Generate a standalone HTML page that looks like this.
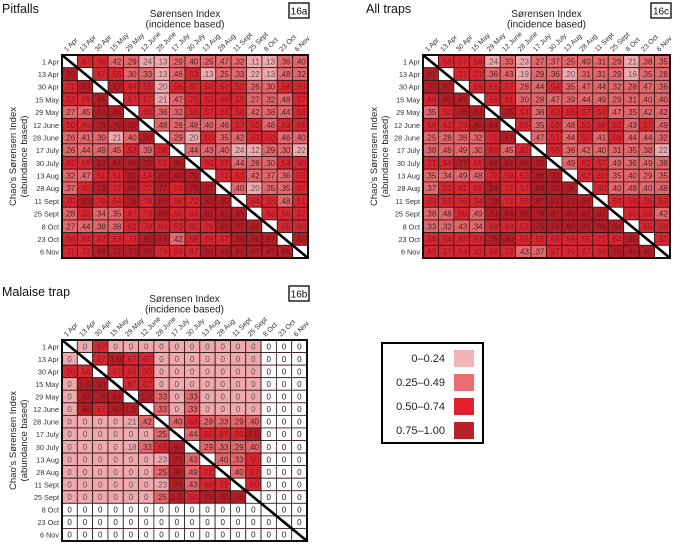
<!DOCTYPE html>
<html><head><meta charset="utf-8"><style>
html,body{margin:0;padding:0;background:#fff;}
svg{display:block;font-family:"Liberation Sans",sans-serif;}
</style></head><body>
<svg id="fig" width="675" height="545" viewBox="0 0 675 545" xmlns="http://www.w3.org/2000/svg">
<g>
<rect x="382" y="343" width="101" height="100" fill="#fff" stroke="#000" stroke-width="2"/>
<text x="445" y="362" text-anchor="end" font-size="11" fill="#222">0–0.24</text>
<rect x="454" y="350" width="20" height="17" fill="#f4b3b6"/>
<text x="445" y="386" text-anchor="end" font-size="11" fill="#222">0.25–0.49</text>
<rect x="454" y="374" width="20" height="17" fill="#ed6e72"/>
<text x="445" y="410" text-anchor="end" font-size="11" fill="#222">0.50–0.74</text>
<rect x="454" y="398" width="20" height="17" fill="#e4202e"/>
<text x="445" y="434" text-anchor="end" font-size="11" fill="#222">0.75–1.00</text>
<rect x="454" y="422" width="20" height="17" fill="#b8212a"/>
</g>
</svg>
<script>
const dates = ['1 Apr','13 Apr','30 Apr','15 May','29 May','12 June','28 June','17 July','30 July','13 Aug','28 Aug','11 Sept','25 Sept','8 Oct','23 Oct','6 Nov'];
const binEdges = [0.25, 0.5, 0.75];
const pitfallValues = [
[null,.67,.50,.42,.29,.24,.13,.29,.40,.25,.47,.32,.11,.13,.36,.40],
[.80,null,.67,.56,.30,.33,.13,.46,.53,.13,.25,.33,.22,.13,.48,.32],
[.71,.83,null,.87,.64,.55,.20,.56,.67,.50,.57,.52,.26,.30,.54,.50],
[.53,.69,.85,null,.67,.57,.21,.47,.70,.53,.60,.55,.27,.32,.48,.57],
[.27,.45,.83,.88,null,.60,.38,.32,.56,.57,.64,.58,.42,.38,.44,.56],
[.50,.60,.78,.76,.90,null,.48,.26,.48,.40,.46,.57,.50,.48,.63,.55],
[.26,.41,.30,.21,.40,.90,null,.29,.20,.50,.35,.42,.53,.50,.46,.40],
[.26,.44,.49,.45,.53,.39,.56,null,.44,.43,.40,.24,.12,.29,.30,.22],
[.61,.69,.83,.84,.86,.76,.55,.80,null,.50,.57,.44,.26,.30,.54,.60],
[.32,.47,.51,.51,.80,.54,.80,.90,.79,null,.71,.53,.42,.37,.36,.50],
[.37,.60,.78,.72,.86,.72,.77,.53,.78,.87,null,.40,.20,.35,.35,.57],
[.70,.83,.70,.64,.76,.74,.84,.56,.72,.83,.80,null,.64,.53,.48,.51],
[.28,.52,.34,.35,.67,.73,.80,.50,.64,.81,.81,.95,null,.63,.56,.52],
[.27,.44,.38,.38,.62,.70,.64,.53,.62,.70,.80,.77,.86,null,.55,.60],
[.56,.64,.67,.63,.73,.80,.78,.42,.58,.59,.67,.86,.86,.87,null,.85],
[.71,.73,.89,.77,.77,.80,.74,.53,.67,.80,.86,.80,.87,.87,.89,null]];
const allTrapValues = [
[null,.58,.57,.56,.24,.33,.23,.27,.37,.25,.40,.31,.29,.21,.38,.35],
[.81,null,.71,.71,.36,.43,.19,.29,.36,.20,.31,.31,.29,.16,.35,.28],
[.77,.87,null,.69,.51,.57,.28,.44,.54,.35,.47,.44,.32,.28,.47,.36],
[.60,.80,.87,null,.55,.61,.30,.28,.47,.39,.44,.49,.29,.31,.40,.40],
[.35,.50,.78,.83,null,.75,.54,.38,.62,.56,.57,.54,.47,.35,.42,.42],
[.59,.62,.73,.80,.84,null,.55,.35,.58,.48,.53,.59,.52,.43,.57,.49],
[.25,.28,.38,.32,.71,.87,null,.47,.51,.44,.50,.41,.56,.44,.44,.32],
[.38,.46,.49,.30,.60,.45,.61,null,.56,.36,.42,.40,.31,.35,.38,.22],
[.71,.54,.77,.65,.86,.82,.88,.90,null,.49,.62,.57,.49,.36,.49,.38],
[.35,.34,.49,.48,.70,.59,.52,.88,.90,null,.62,.50,.35,.40,.29,.35],
[.37,.52,.61,.55,.84,.72,.57,.88,.92,.96,null,.50,.40,.48,.40,.48],
[.63,.53,.56,.54,.78,.72,.56,.87,.91,.93,.96,null,.50,.59,.56,.52],
[.38,.48,.60,.49,.83,.84,.85,.76,.87,.80,.81,.92,null,.55,.53,.42],
[.33,.32,.43,.34,.69,.63,.52,.75,.76,.80,.81,.84,.84,null,.55,.50],
[.58,.54,.63,.53,.75,.80,.55,.56,.66,.56,.55,.71,.64,.80,null,.67],
[.65,.57,.64,.63,.58,.73,.43,.37,.57,.70,.67,.68,.76,.80,.90,null]];
const malaiseValues = [
[null,0,.67,0,0,0,0,0,0,0,0,0,0,0,0,0],
[0,null,.67,1.0,.67,.67,0,0,0,0,0,0,0,0,0,0],
[.50,.50,null,.67,.50,.50,0,0,0,0,0,0,0,0,0,0],
[0,1.0,.90,null,.67,.67,0,0,0,0,0,0,0,0,0,0],
[0,.93,.78,.98,null,1.0,.33,0,.33,0,0,0,0,0,0,0],
[0,.80,.67,.80,1.0,null,.33,0,.33,0,0,0,0,0,0,0],
[0,0,0,0,.21,.42,null,.40,.50,.29,.33,.29,.40,0,0,0],
[0,0,0,0,0,0,.25,null,.44,.50,.67,.50,1.0,0,0,0],
[0,0,0,0,.18,.33,.69,.90,null,.29,.33,.29,.40,0,0,0],
[0,0,0,0,0,0,.23,.75,.43,null,.40,.33,.50,0,0,0],
[0,0,0,0,0,0,.25,.90,.49,.72,null,.40,.57,0,0,0],
[0,0,0,0,0,0,.23,.75,.43,.60,.72,null,.50,0,0,0],
[0,0,0,0,0,0,.25,1.0,.50,.75,.90,.75,null,0,0,0],
[0,0,0,0,0,0,0,0,0,0,0,0,0,null,0,0],
[0,0,0,0,0,0,0,0,0,0,0,0,0,0,null,0],
[0,0,0,0,0,0,0,0,0,0,0,0,0,0,0,null]];
const malaiseUnsampled = ['8 Oct','23 Oct','6 Nov'];

const NS = 'http://www.w3.org/2000/svg';
const svg = document.getElementById('fig');
const cellFills = ['#efa9ad','#e2686d','#d62632','#b11e27'];
const textFills = ['#555','#4a2424','#8a1a22','#7a1218'];
function bin(v){ let b=0; for(const e of binEdges){ if(v>=e) b++; } return b; }
function fmt(v){ if(v===0) return '0'; if(v>=1) return '1.0'; return '.'+String(Math.round(v*100)).padStart(2,'0'); }
function mk(tag, attrs, parent){ const e=document.createElementNS(NS,tag); for(const k in attrs) e.setAttribute(k,attrs[k]); parent.appendChild(e); return e; }

function drawPanel(cfg){
  const g = mk('g',{},svg);
  
  
  const n = dates.length;
  const cw = (cfg.x1-cfg.x0)/n, ch = (cfg.y1-cfg.y0)/n;
  const xs = i => cfg.x0 + i*cw, ys = i => cfg.y0 + i*ch;
  const t = mk('text',{x:cfg.tx,y:cfg.ty,'font-size':12.5,fill:'#111'},g); t.textContent=cfg.title;
  
  
  const tb = mk('rect',{x:cfg.tagX,y:cfg.tagY,width:20,height:15,fill:'#fff',stroke:'#000','stroke-width':1.3},g);
  
  
  const tt = mk('text',{x:cfg.tagX+10,y:cfg.tagY+11.5,'text-anchor':'middle','font-size':10,fill:'#111'},g); tt.textContent=cfg.tag;
  
  
  const cx = (cfg.x0+cfg.x1)/2;
  const xt1 = mk('text',{x:cx,y:cfg.xtY,'text-anchor':'middle','font-size':10,fill:'#222'},g); xt1.textContent='Sørensen Index';
  
  
  const xt2 = mk('text',{x:cx,y:cfg.xtY+10.5,'text-anchor':'middle','font-size':10,fill:'#222'},g); xt2.textContent='(incidence  based)';
  
  
  const cy = (cfg.y0+cfg.y1)/2;
  const yt1 = mk('text',{x:0,y:0,'text-anchor':'middle','font-size':9.5,fill:'#222',transform:`translate(${cfg.x0-46},${cy}) rotate(-90)`},g); yt1.textContent="Chao's Sørensen Index";
  
  
  const yt2 = mk('text',{x:0,y:0,'text-anchor':'middle','font-size':9.5,fill:'#222',transform:`translate(${cfg.x0-35},${cy}) rotate(-90)`},g); yt2.textContent='(abundance based)';
  
  
  for(let i=0;i<n;i++){
    const rl = mk('text',{x:cfg.x0-3,y:ys(i)+ch/2+3,'text-anchor':'end','font-size':7.3,fill:'#333'},g); rl.textContent=dates[i];
    
    
    const ax = xs(i)+cw/2-3, ay = cfg.y0-3;
    const cl = mk('text',{x:0,y:0,'font-size':7,fill:'#333',transform:`translate(${ax},${ay}) rotate(-45)`},g); cl.textContent=dates[i];
    
    
  }
  for(let r=0;r<n;r++){
    for(let c=0;c<n;c++){
      const v = cfg.values[r][c];
      let fill = '#fff';
      const blank = v===null || (cfg.unsampled && (cfg.unsampled.includes(dates[r])||cfg.unsampled.includes(dates[c])));
      if(!blank) fill = cellFills[bin(v)];
      const cell = mk('rect',{x:xs(c),y:ys(r),width:cw,height:ch,fill:fill,stroke:'#2a1414','stroke-width':0.8},g);
      
      
      if(v!==null){
        const tf = blank ? '#222' : textFills[bin(v)];
        const lab = mk('text',{x:xs(c)+cw/2,y:ys(r)+ch/2+3,'text-anchor':'middle','font-size':8,fill:tf},g); lab.textContent=fmt(v);
        
        
      }
    }
  }
  const border = mk('rect',{x:cfg.x0,y:cfg.y0,width:cfg.x1-cfg.x0,height:cfg.y1-cfg.y0,fill:'none',stroke:'#111','stroke-width':2},g);
  
  
  const diag = mk('line',{x1:cfg.x0,y1:cfg.y0,x2:cfg.x1,y2:cfg.y1,stroke:'#000','stroke-width':2.6},g);
  
  
}

drawPanel({name:'pitfalls-heatmap',title:'Pitfalls',tag:'16a',values:pitfallValues,x0:62,x1:308,y0:55,y1:258,tx:2,ty:13,tagX:289,tagY:3,xtY:17});
drawPanel({name:'all-traps-heatmap',title:'All traps',tag:'16c',values:allTrapValues,x0:423,x1:670,y0:55,y1:258,tx:366,ty:13,tagX:651,tagY:3,xtY:17});
drawPanel({name:'malaise-heatmap',title:'Malaise trap',tag:'16b',values:malaiseValues,unsampled:malaiseUnsampled,x0:62,x1:307,y0:340,y1:541,tx:2,ty:296,tagX:289,tagY:286,xtY:302});
</script>
</body></html>
